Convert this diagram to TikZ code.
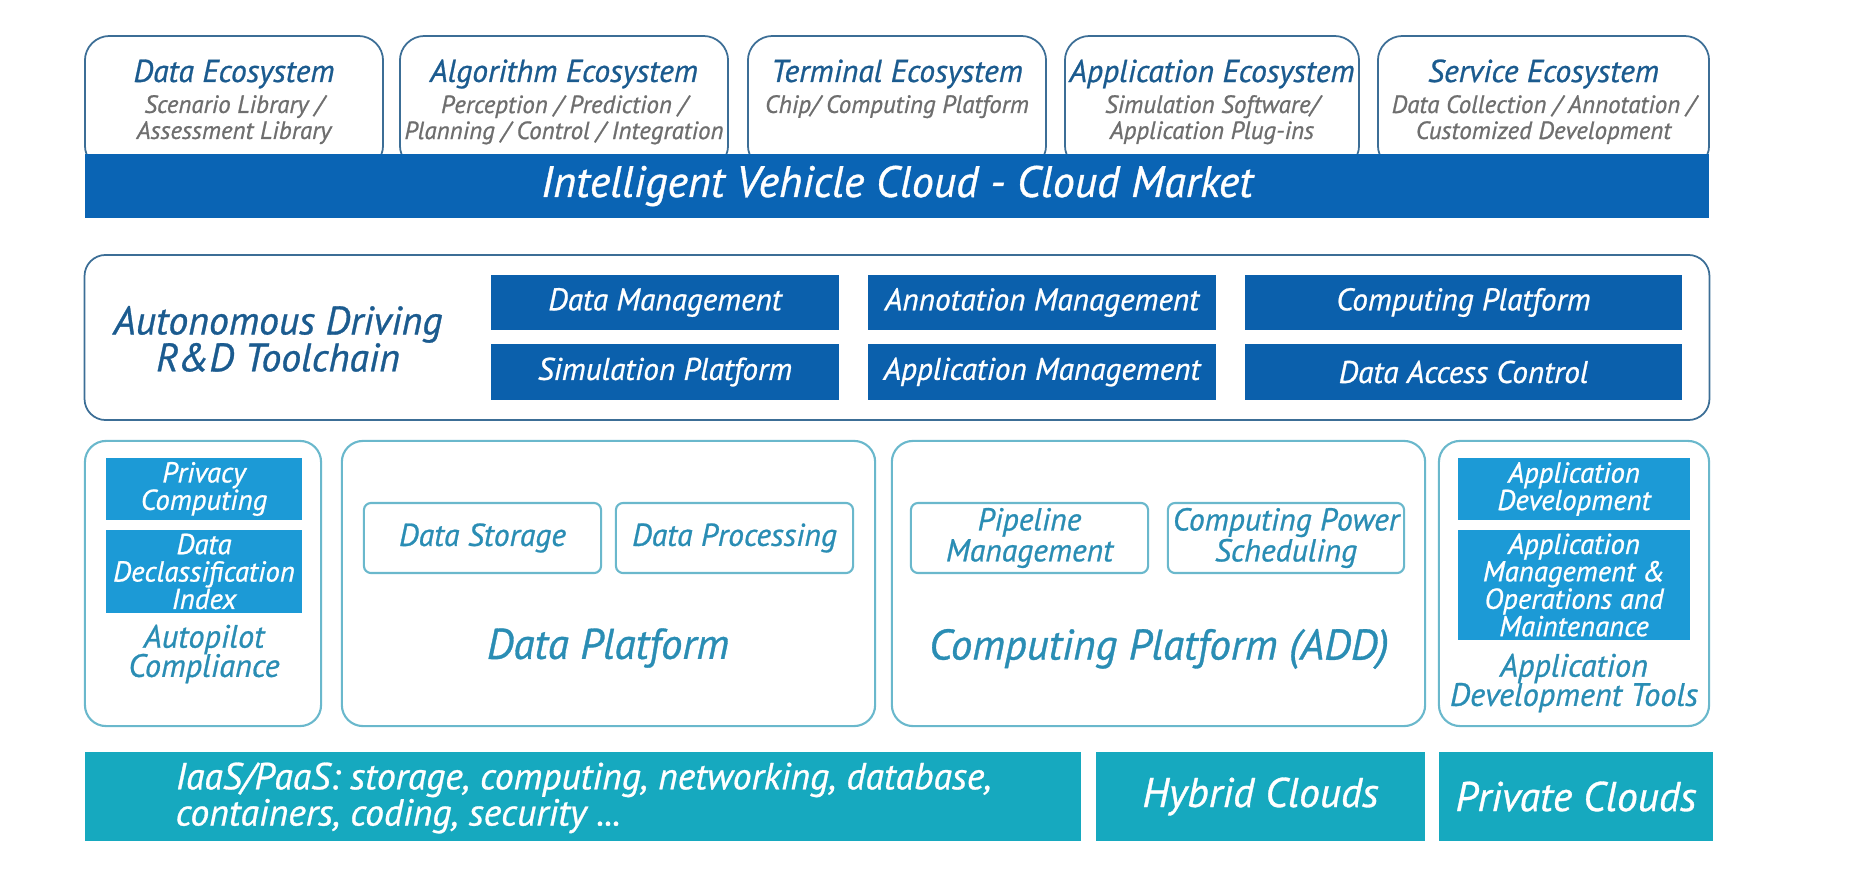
\documentclass[tikz,border=0pt]{standalone}
\usepackage{fontspec}
\setmainfont{PT Sans}[ItalicFeatures={FakeBold=0.8}]
\usepackage{xcolor}
\usetikzlibrary{positioning}
\definecolor{cloudblue}{HTML}{0A64B4}
\definecolor{toolblue}{HTML}{0B60AC}
\definecolor{skyblue}{HTML}{1C9AD6}
\definecolor{cyanbar}{HTML}{16A9BF}
\definecolor{ecoline}{HTML}{3C6E96}
\definecolor{panelline}{HTML}{6AB8CC}
\definecolor{titleblue}{HTML}{1B5B8F}
\definecolor{subgray}{HTML}{6E6E6E}
\definecolor{paneltext}{HTML}{2A8DB4}
\lineskiplimit=-100pt

\begin{document}
\begin{tikzpicture}[x=0.01cm, y=-0.01cm,
  every node/.style={font=\itshape, inner sep=0pt, align=center},
  ecobox/.style={draw=ecoline, line width=0.5pt, rounded corners=7pt, fill=white},
  ecotitle/.style={text=titleblue, font=\itshape\fontsize{9}{10}\selectfont},
  ecosub/.style={text=subgray, font=\itshape\fontsize{7.1}{7.4}\selectfont},
  frame/.style={draw=ecoline, line width=0.5pt, rounded corners=6pt},
  toolbox/.style={fill=toolblue, text=white, font=\itshape\fontsize{8.9}{9}\selectfont},
  panel/.style={draw=panelline, line width=0.6pt, rounded corners=6pt},
  skybox/.style={fill=skyblue, text=white, font=\itshape\fontsize{8.2}{7.8}\selectfont},
  outbox/.style={draw=panelline, line width=0.6pt, rounded corners=2pt, text=paneltext,
    font=\itshape\fontsize{9}{8.8}\selectfont},
  paneltitle/.style={text=paneltext, font=\itshape\fontsize{12.2}{12}\selectfont},
  panelnote/.style={text=paneltext, font=\itshape\fontsize{9.2}{8.3}\selectfont},
  cloudbox/.style={fill=cyanbar, text=white, font=\itshape\fontsize{11.8}{12.5}\selectfont}]
  \useasboundingbox (0,0) rectangle (1860,891);

  % ecosystems on top of the cloud market
  \node[ecobox, minimum width=2.98cm, minimum height=1.34cm] (dataeco) at (234,103) {};
  \node[ecobox, minimum width=3.28cm, minimum height=1.34cm] (algoeco) at (564,103) {};
  \node[ecobox, minimum width=2.98cm, minimum height=1.34cm] (termeco) at (897,103) {};
  \node[ecobox, minimum width=2.94cm, minimum height=1.34cm] (appeco) at (1212,103) {};
  \node[ecobox, minimum width=3.31cm, minimum height=1.34cm] (serveco) at (1543.5,103) {};
  \node[ecotitle] (dataecot) at (234,74) {Data Ecosystem};
  \node[ecotitle] (algoecot) at (564,74) {Algorithm Ecosystem};
  \node[ecotitle] (termecot) at (897,74) {Terminal Ecosystem};
  \node[ecotitle] (appecot) at (1212,74) {Application Ecosystem};
  \node[ecotitle] (servecot) at (1543.5,74) {Service Ecosystem};
  \node[ecosub, below=1.5pt of dataecot] {Scenario Library /\\Assessment Library};
  \node[ecosub, below=1.5pt of algoecot] {Perception / Prediction /\\Planning / Control / Integration};
  \node[ecosub, below=1.5pt of termecot] {Chip/ Computing Platform};
  \node[ecosub, below=1.5pt of appecot] {Simulation Software/\\Application Plug-ins};
  \node[ecosub, below=1.5pt of servecot] {Data Collection / Annotation /\\Customized Development};
  \node[fill=cloudblue, text=white, minimum width=16.24cm, minimum height=0.64cm,
    font=\itshape\fontsize{12.5}{13}\selectfont] (market) at (897,186)
    {Intelligent Vehicle Cloud - Cloud Market};

  % toolchain
  \node[frame, minimum width=16.24cm, minimum height=1.65cm] (toolchain) at (897,337.5) {};
  \node[text=titleblue, font=\itshape\fontsize{11.3}{10.5}\selectfont] (toolt) at (278,339)
    {Autonomous Driving\\R\&D Toolchain};
  \node[toolbox, minimum width=3.48cm, minimum height=0.55cm] (datamgmt) at (665,302.5) {Data Management};
  \node[toolbox, minimum width=3.48cm, minimum height=0.55cm] (annomgmt) at (1042,302.5) {Annotation Management};
  \node[toolbox, minimum width=4.37cm, minimum height=0.55cm] (comppf) at (1463.5,302.5) {Computing Platform};
  \node[toolbox, minimum width=3.48cm, minimum height=0.56cm] (simpf) at (665,372) {Simulation Platform};
  \node[toolbox, minimum width=3.48cm, minimum height=0.56cm] (appmgmt) at (1042,372) {Application Management};
  \node[toolbox, minimum width=4.37cm, minimum height=0.56cm] (access) at (1463.5,372) {Data Access Control};

  % platform panels
  \node[panel, minimum width=2.36cm, minimum height=2.85cm] (compliance) at (203,583.5) {};
  \node[panel, minimum width=5.33cm, minimum height=2.85cm] (datapf) at (608.5,583.5) {};
  \node[panel, minimum width=5.33cm, minimum height=2.85cm] (addpf) at (1158.5,583.5) {};
  \node[panel, minimum width=2.70cm, minimum height=2.85cm] (devtools) at (1574,583.5) {};

  \node[skybox, minimum width=1.96cm, minimum height=0.62cm] (privacy) at (204,489) {Privacy\\Computing};
  \node[skybox, minimum width=1.96cm, minimum height=0.83cm] (declass) at (204,571.5) {Data\\Declassification\\Index};
  \node[panelnote] (compliancet) at (204,654) {Autopilot\\Compliance};

  \node[outbox, minimum width=2.37cm, minimum height=0.70cm] (storage) at (482.5,538) {Data Storage};
  \node[outbox, minimum width=2.37cm, minimum height=0.70cm] (processing) at (734.5,538) {Data Processing};
  \node[paneltitle] (datapft) at (608,648) {Data Platform};

  \node[outbox, minimum width=2.37cm, minimum height=0.70cm] (pipeline) at (1029.5,538) {Pipeline\\Management};
  \node[outbox, minimum width=2.36cm, minimum height=0.70cm] (power) at (1286,538) {Computing Power\\Scheduling};
  \node[paneltitle] (addpft) at (1159,649) {Computing Platform (ADD)};

  \node[skybox, minimum width=2.32cm, minimum height=1.10cm] (appops) at (1574,585)
    {Application\\Management \&\\Operations and\\Maintenance};
  \node[skybox, minimum width=2.32cm, minimum height=0.62cm] (appdev) at (1574,489) {Application\\Development};
  \node[panelnote] (devtoolst) at (1574,683) {Application\\Development Tools};

  % cloud infrastructure
  \node[cloudbox, minimum width=9.96cm, minimum height=0.89cm] (iaas) at (583,796.5) {};
  \node[cloudbox, align=left, anchor=west, font=\itshape\fontsize{10.7}{10.3}\selectfont] (iaast) at (175,798)
    {IaaS/PaaS: storage, computing, networking, database,\\containers, coding, security ...};
  \node[cloudbox, minimum width=3.29cm, minimum height=0.89cm] (hybrid) at (1260.5,796.5) {Hybrid Clouds};
  \node[cloudbox, minimum width=2.74cm, minimum height=0.89cm] (private) at (1576,796.5) {Private Clouds};
\end{tikzpicture}
\end{document}
